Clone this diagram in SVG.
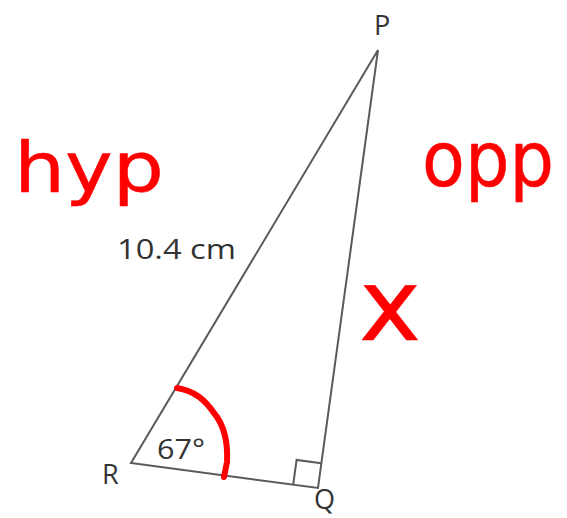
<svg xmlns="http://www.w3.org/2000/svg" width="567" height="518" viewBox="0 0 567 518">
<style>
.edge{stroke:#5a5a5a;stroke-width:2;fill:none;stroke-linejoin:miter}
.lbl{font-family:"Open Sans","Liberation Sans",sans-serif;fill:#333;font-size:27px}
.hand{font-family:"DejaVu Sans","Liberation Sans",sans-serif;font-weight:normal;fill:#ff0000;stroke:#ff0000;stroke-width:0.5;stroke-linejoin:round}
.red{stroke:#ff0000;stroke-width:6;fill:none;stroke-linecap:round;stroke-linejoin:round}
</style>
<rect width="567" height="518" fill="#ffffff"/>
<g id="connectors">
<path class="edge" d="M378,50 L131,463 L318,488 Z"/>
<path class="edge" d="M293.2,484.7 L296.6,459.9 L321.4,463.2" stroke-width="1.8"/>
</g>
<g id="P"><text class="lbl" x="374" y="35">P</text></g>
<g id="R"><text class="lbl" x="102" y="484">R</text></g>
<g id="Q"><text class="lbl" x="314" y="509">Q</text></g>
<g id="side-label"><text class="lbl" x="117" y="259" textLength="119" lengthAdjust="spacingAndGlyphs">10.4 cm</text></g>
<g id="angle">
<path class="red" d="M177,388 C195,391 205,400 214,413 C224,425 228,442 227,462 L224,477"/>
<text class="lbl" x="157" y="459" textLength="48" lengthAdjust="spacingAndGlyphs">67°</text>
</g>
<g id="hyp"><text class="hand" x="14" y="192" font-size="70" textLength="150" lengthAdjust="spacingAndGlyphs">hyp</text></g>
<g id="opp"><text class="hand" x="422" y="186" font-size="76" textLength="132" lengthAdjust="spacingAndGlyphs">opp</text></g>
<g id="x"><text class="hand" x="359" y="340" font-size="100" textLength="62" lengthAdjust="spacingAndGlyphs">x</text></g>
</svg>
